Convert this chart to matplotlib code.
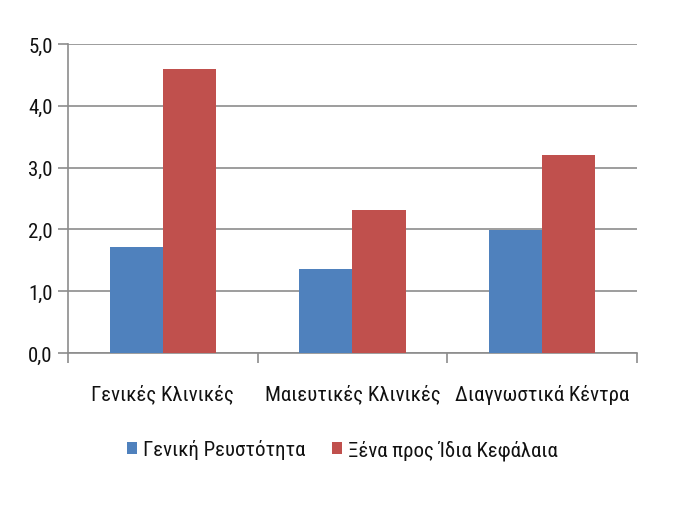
import matplotlib
matplotlib.use('Agg')
import matplotlib.pyplot as plt
import numpy as np
from matplotlib import font_manager
from matplotlib.ft2font import FT2Font

# Δεδομένα
categories = ['Γενικές Κλινικές', 'Μαιευτικές Κλινικές', 'Διαγνωστικά Κέντρα']
series_names = ['Γενική Ρευστότητα', 'Ξένα προς Ίδια Κεφάλαια']
liquidity = [1.71, 1.36, 1.99]
debt_equity = [4.59, 2.32, 3.21]
yticks = [0, 1, 2, 3, 4, 5]
ytick_labels = ['0,0', '1,0', '2,0', '3,0', '4,0', '5,0']


def has_greek(fname):
    try:
        ft = FT2Font(fname)
        return all(ft.get_char_index(ord(c)) for c in 'ΓέΞψ')
    except Exception:
        return False


# στενή γραμματοσειρά με ελληνικά, αν υπάρχει
prefs = ['Open Sans Condensed', 'Roboto Condensed', 'Fira Sans Condensed',
         'Ubuntu Condensed', 'PT Sans Narrow', 'Liberation Sans Narrow',
         'Noto Sans', 'Archivo Narrow', 'Asap Condensed', 'Barlow Semi Condensed']
fp = None
for p in prefs:
    for f in font_manager.fontManager.ttflist:
        if f.name == p and f.style == 'normal' and f.weight in (400, 'normal', 'regular') \
                and (f.stretch != 'normal' or 'Narrow' in p or 'Condensed' in p) and has_greek(f.fname):
            fp = font_manager.FontProperties(fname=f.fname)
            break
    if fp:
        break
if fp is None:
    fp = font_manager.FontProperties(family='DejaVu Sans')

fig = plt.figure(figsize=(6.75, 5.06), dpi=100)
ax = fig.add_axes([0.1007, 0.3004, 0.843, 0.6106])

x = np.arange(len(categories))
w = 0.28
ax.bar(x - w / 2, liquidity, w, color='#4F81BD', label=series_names[0], zorder=3)
ax.bar(x + w / 2, debt_equity, w, color='#C0504D', label=series_names[1], zorder=3)

ax.set_xlim(-0.5, 2.5)
ax.set_ylim(0, 5)
ax.set_yticks(yticks)
ax.set_yticklabels(ytick_labels)
ax.yaxis.grid(True, color='#8C8C8C', linewidth=1.2, zorder=0)

ax.set_xticks([-0.5, 0.5, 1.5, 2.5])
ax.set_xticklabels([])
ax.set_xticks(x, minor=True)
ax.set_xticklabels(categories, minor=True)
ax.tick_params(axis='x', which='minor', length=0, pad=22)
ax.tick_params(axis='x', which='major', length=7, color='#8C8C8C', width=1.2)
ax.tick_params(axis='y', length=7, color='#8C8C8C', width=1.2, pad=4)
for lab in ax.get_yticklabels() + ax.get_xticklabels(minor=True):
    lab.set_fontproperties(fp)
    lab.set_fontsize(15)
    lab.set_color('#111111')

for s in ['top', 'right']:
    ax.spines[s].set_visible(False)
for s in ['left', 'bottom']:
    ax.spines[s].set_color('#8C8C8C')
    ax.spines[s].set_linewidth(1.2)

lp = fp.copy()
lp.set_size(15)
leg = fig.legend(loc='center', bbox_to_anchor=(0.507, 0.11), ncol=2, frameon=False,
                 prop=lp, handlelength=0.5, handleheight=0.5, handletextpad=0.25,
                 columnspacing=1.3)
for t in leg.get_texts():
    t.set_color('#111111')

fig.savefig('out.png', dpi=100)
